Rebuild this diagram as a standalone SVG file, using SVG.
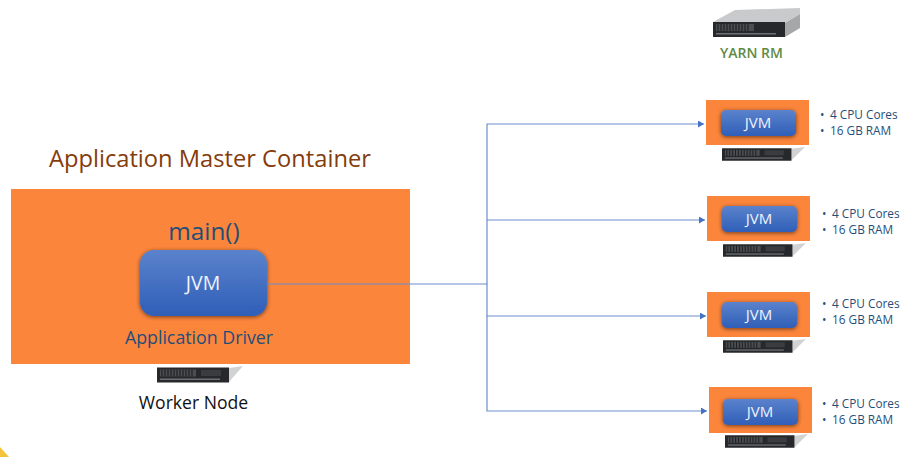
<svg xmlns="http://www.w3.org/2000/svg" width="903" height="457" viewBox="0 0 903 457">
<style>
text{font-family:"Open Sans","Noto Sans","Liberation Sans",sans-serif}
.or{fill:#fb853b}
.jvm{fill:url(#blue);filter:url(#sh)}
.jt{fill:#eef3fb;text-anchor:middle}
.spec{fill:#1f4e79;font-size:11.8px}
.conn{fill:none;stroke:#6a8fd0;stroke-width:1.2}
</style>
<defs>
<linearGradient id="blue" x1="0" y1="0" x2="0" y2="1"><stop offset="0" stop-color="#5b82cc"/><stop offset="1" stop-color="#2f5fb8"/></linearGradient>
<filter id="sh" x="-15%" y="-25%" width="130%" height="150%"><feGaussianBlur in="SourceAlpha" stdDeviation="2"/><feOffset dy="1"/><feComponentTransfer><feFuncA type="linear" slope="0.55"/></feComponentTransfer><feMerge><feMergeNode/><feMergeNode in="SourceGraphic"/></feMerge></filter>
<marker id="arr" markerUnits="userSpaceOnUse" markerWidth="7" markerHeight="7" refX="6" refY="3.5" orient="auto"><path d="M0 0L6 3.5L0 7z" fill="#4472c4"/></marker>
<symbol id="srv" viewBox="0 0 86 18" preserveAspectRatio="none">
<path d="M72 2L86 0L72 16z" fill="#d2d2d2"/>
<rect x="0" y="1.500" width="72" height="15" fill="#26282b"/>
<rect x="3" y="3.500" width="36" height="7" fill="#4a4d51"/>
<path d="M5 3.500v7M8 3.500v7M11 3.500v7M14 3.500v7M17 3.500v7M20 3.500v7M23 3.500v7M26 3.500v7M29 3.500v7M32 3.500v7M35 3.500v7" stroke="#1a1b1d" stroke-width="1"/>
<rect x="3" y="12.500" width="60" height="1.500" fill="#6e7276"/>
<rect x="44" y="4" width="20" height="6" fill="#3a3c40"/>
</symbol>
<symbol id="srvtop" viewBox="0 0 87 29" preserveAspectRatio="none">
<path d="M0 14L22 2L87 0V6L72 15z" fill="#c9cacb"/>
<path d="M72 15L87 6V20L72 29z" fill="#a5a7a9"/>
<rect x="0" y="14" width="72" height="15" fill="#26282b"/>
<rect x="3" y="16" width="38" height="7" fill="#4a4d51"/>
<path d="M5 16v7M8 16v7M11 16v7M14 16v7M17 16v7M20 16v7M23 16v7M26 16v7M29 16v7M32 16v7M35 16v7" stroke="#1a1b1d" stroke-width="1"/>
<rect x="3" y="25" width="60" height="1.500" fill="#6e7276"/>
</symbol>
</defs>
<rect width="903" height="457" fill="#fff"/>
<path d="M0 457V447L9 457z" fill="#f5c33b"/>

<g id="yarn-rm">
<use href="#srvtop" x="713" y="8" width="87" height="29"/>
<text x="751.500" y="58" text-anchor="middle" font-size="14" font-weight="600" fill="#5f8a45">YARN RM</text>
</g>

<g id="application-master">
<text x="49" y="167" font-size="23.700" fill="#843c0c">Application Master Container</text>
<rect class="or" x="11" y="189" width="399" height="175"/>
<text x="204" y="240" text-anchor="middle" font-size="24.300" fill="#1f4e79">main()</text>
<rect class="jvm" x="140" y="250" width="127" height="66" rx="14"/>
<text class="jt" x="203" y="290" font-size="19.500">JVM</text>
<text x="199" y="344" text-anchor="middle" font-size="17.800" fill="#1f4e79">Application Driver</text>
</g>

<g id="worker-node">
<use href="#srv" x="157" y="366" width="86" height="18"/>
<text x="193.500" y="409" text-anchor="middle" font-size="17.600" fill="#111">Worker Node</text>
</g>

<g id="connectors">
<path class="conn" d="M267 284H487V124H704" marker-end="url(#arr)"/>
<path class="conn" d="M487 220H705" marker-end="url(#arr)"/>
<path class="conn" d="M487 284V316H706" marker-end="url(#arr)"/>
<path class="conn" d="M487 316V411H707" marker-end="url(#arr)"/>
</g>

<g id="executor-1">
<rect class="or" x="706" y="100" width="103" height="45"/>
<rect class="jvm" x="721" y="110" width="75" height="26" rx="5"/>
<text class="jt" x="758" y="128" font-size="15">JVM</text>
<use href="#srv" x="722" y="147" width="83" height="15"/>
<text class="spec" x="820" y="119">•</text><text class="spec" x="830" y="119">4 CPU Cores</text>
<text class="spec" x="820" y="135">•</text><text class="spec" x="830" y="135">16 GB RAM</text>
</g>
<g id="executor-2">
<rect class="or" x="707" y="196" width="103" height="45"/>
<rect class="jvm" x="722" y="206" width="75" height="26" rx="5"/>
<text class="jt" x="759" y="224" font-size="15">JVM</text>
<use href="#srv" x="723" y="243" width="83" height="15"/>
<text class="spec" x="822" y="218">•</text><text class="spec" x="832" y="218">4 CPU Cores</text>
<text class="spec" x="822" y="234">•</text><text class="spec" x="832" y="234">16 GB RAM</text>
</g>
<g id="executor-3">
<rect class="or" x="707" y="292" width="103" height="45"/>
<rect class="jvm" x="722" y="302" width="75" height="26" rx="5"/>
<text class="jt" x="759" y="320" font-size="15">JVM</text>
<use href="#srv" x="723" y="339" width="83" height="15"/>
<text class="spec" x="822" y="308">•</text><text class="spec" x="832" y="308">4 CPU Cores</text>
<text class="spec" x="822" y="324">•</text><text class="spec" x="832" y="324">16 GB RAM</text>
</g>
<g id="executor-4">
<rect class="or" x="709" y="387" width="103" height="46"/>
<rect class="jvm" x="723" y="399" width="75" height="26" rx="5"/>
<text class="jt" x="760" y="417" font-size="15">JVM</text>
<use href="#srv" x="725" y="434" width="83" height="15"/>
<text class="spec" x="822" y="408">•</text><text class="spec" x="832" y="408">4 CPU Cores</text>
<text class="spec" x="822" y="424">•</text><text class="spec" x="832" y="424">16 GB RAM</text>
</g>
</svg>
